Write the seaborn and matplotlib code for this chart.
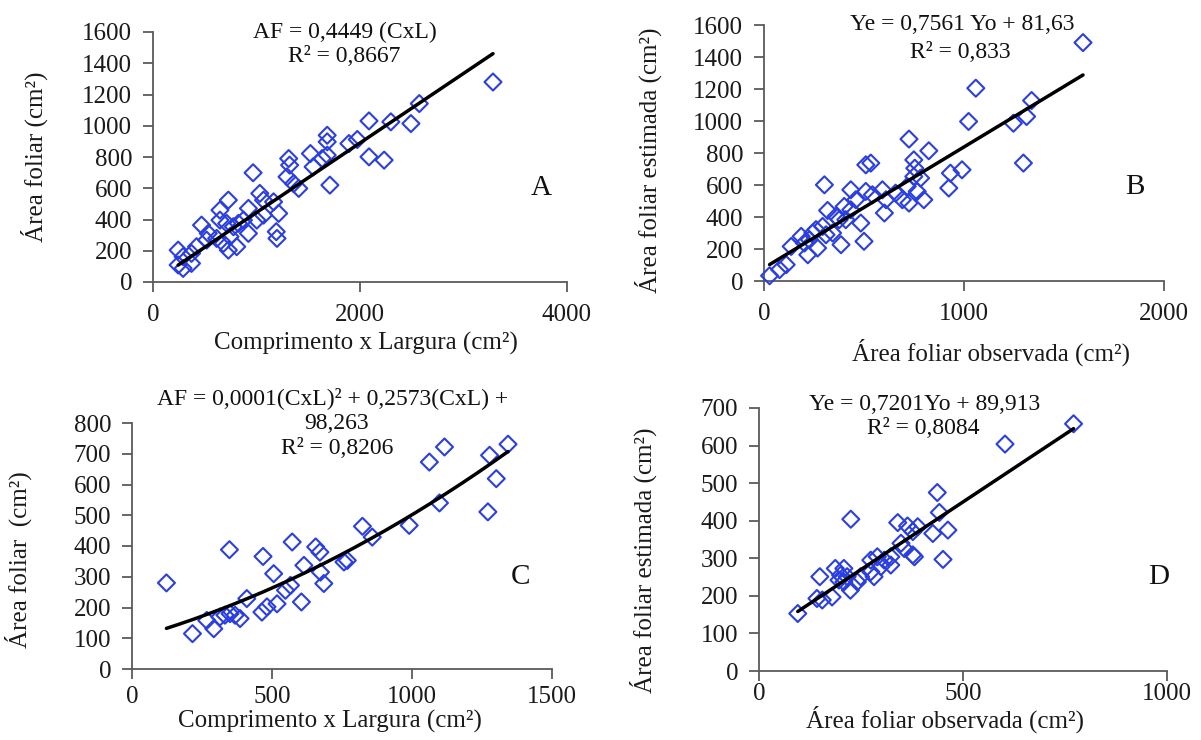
import numpy as np
import pandas as pd
import matplotlib
matplotlib.use("Agg")
import matplotlib.pyplot as plt
import seaborn as sns

# Panel A: leaf area vs length x width (calibration set)
a_cxl = [3285, 2573, 2492, 2298, 2087, 2087, 2233, 1974, 1893, 1683, 1683, 1683,
         1634, 1521, 1547, 1311, 1320, 1295, 1359, 1408, 1709, 967, 1032, 1068,
         1165, 1214, 1191, 1198, 922, 1003, 922, 825, 728, 647, 647, 712, 469,
         534, 680, 728, 809, 744, 615, 421, 372, 243, 291, 243, 291, 372, 518,
         777, 874, 1068]
a_af = [1280, 1142, 1014, 1025, 1031, 801, 780, 912, 886, 939, 897, 812,
        790, 822, 737, 790, 748, 673, 630, 599, 620, 699, 567, 524,
        513, 439, 322, 279, 471, 396, 311, 375, 524, 460, 396, 375, 364,
        311, 247, 204, 226, 290, 279, 226, 183, 204, 162, 109, 87, 119, 268,
        354, 396, 428]

# Panel B: estimated vs observed leaf area (calibration set)
b_obs = [1595, 1059, 1338, 1313, 1247, 1297, 1023, 990, 932, 924, 824, 725,
         749, 754, 749, 783, 799, 766, 725, 692, 716, 509, 534, 302, 434, 509,
         592, 610, 602, 484, 500, 385, 318, 401, 434, 376, 343, 260, 227, 268,
         219, 136, 111, 78, 28, 293, 360, 409, 244, 310, 459, 542, 658, 202, 186]
b_est = [1490, 1205, 1128, 1028, 986, 737, 997, 695, 674, 581, 814, 887,
         757, 705, 653, 643, 508, 560, 487, 508, 591, 726, 737, 601, 570, 560,
         570, 508, 425, 362, 248, 227, 441, 466, 445, 383, 300, 321, 258, 206,
         164, 216, 102, 71, 33, 341, 404, 383, 300, 289, 508, 539, 549, 237, 279]

# Panel C: leaf area vs length x width (second set)
c_cxl = [123, 216, 267, 292, 314, 332, 350, 368, 386, 348, 410, 468, 464, 482,
         518, 506, 548, 566, 572, 605, 614, 656, 671, 673, 685, 757, 769, 823,
         858, 990, 1062, 1116, 1098, 1271, 1277, 1301, 1343]
c_af = [280, 115, 158, 131, 169, 175, 180, 175, 164, 388, 229, 366, 185, 202,
        212, 310, 256, 272, 413, 218, 337, 397, 380, 315, 278, 348, 353, 464,
        429, 467, 673, 722, 540, 511, 695, 619, 731]

# Panel D: estimated vs observed leaf area (validation set)
d_obs = [771, 603, 437, 442, 463, 426, 451, 340, 364, 389, 377, 377, 381, 348,
         356, 225, 323, 323, 307, 290, 274, 282, 274, 208, 187, 216, 208, 224,
         241, 196, 149, 155, 179, 142, 95, 249, 200, 299]
d_est = [658, 604, 475, 422, 375, 366, 297, 395, 386, 384, 371, 309, 304, 340,
         326, 404, 304, 282, 295, 304, 295, 251, 264, 273, 273, 251, 237, 215,
         237, 242, 251, 189, 197, 193, 153, 251, 255, 278]

# Fitted model coefficients
a_slope = 0.4449
b_slope, b_icpt = 0.7561, 81.63
c_quad = [0.000146, 0.2573, 98.263]
d_slope, d_icpt = 0.7201, 89.913

sns.set_style("ticks")
plt.rcParams["font.family"] = ["Liberation Serif", "DejaVu Serif"]

W, H = 1201, 740
fig = plt.figure(figsize=(W / 100, H / 100), dpi=100)


def px_axes(left, top, right, bottom):
    return fig.add_axes([left / W, 1 - bottom / H, (right - left) / W, (bottom - top) / H])


def fig_text(x, y, s, size=17, **kw):
    fig.text(x / W, 1 - y / H, s, ha="center", va="center", fontsize=size,
             color="#111111", **kw)


MARK = "#2b3fe0"
SPINE = "#5a5a5a"
TXT = "#1a1a1a"


def style(ax, xlim, ylim, xticks, yticks, xlabel, ylabel, xl_pos, yl_pos, xpad=9):
    ax.set_xlim(*xlim)
    ax.set_ylim(*ylim)
    ax.set_xticks(xticks)
    ax.set_yticks(yticks)
    sns.despine(ax=ax)
    for side in ("left", "bottom"):
        ax.spines[side].set_color(SPINE)
        ax.spines[side].set_linewidth(1.3)
    ax.tick_params(direction="out", length=7, width=1.3, color=SPINE,
                   labelsize=18, labelcolor=TXT, pad=8)
    ax.tick_params(axis="x", pad=xpad)
    ax.set_xlabel(xlabel, fontsize=18, color=TXT, va="center")
    ax.set_ylabel(ylabel, fontsize=18, color=TXT, va="center")
    ax.xaxis.set_label_coords(*xl_pos)
    ax.yaxis.set_label_coords(*yl_pos)
    ax.set_facecolor("none")


def scatter(ax, x, y):
    df = pd.DataFrame({"x": x, "y": y})
    sns.scatterplot(data=df, x="x", y="y", ax=ax, marker="D", s=75,
                    facecolor="none", edgecolor=MARK, linewidth=1.5,
                    clip_on=False, zorder=3)


def fit_line(ax, x, fn):
    xs = np.linspace(min(x), max(x), 200)
    df = pd.DataFrame({"x": xs, "y": fn(xs)})
    sns.lineplot(data=df, x="x", y="y", ax=ax, color="black", linewidth=2.5, zorder=4)


# A
axA = px_axes(153, 32, 567, 282)
scatter(axA, a_cxl, a_af)
fit_line(axA, a_cxl, lambda v: a_slope * v)
style(axA, (0, 4000), (0, 1600), [0, 2000, 4000], range(0, 1601, 200),
      "Comprimento x Largura (cm²)", "Área foliar (cm²)",
      (0.515, -0.244), (-0.287, 0.5), xpad=9)
fig_text(345, 32, "AF = 0,4449 (CxL)")
fig_text(344, 57, "R² = 0,8667")
fig_text(541, 188, "A", size=21)

# B
axB = px_axes(764, 25, 1164, 281)
scatter(axB, b_obs, b_est)
fit_line(axB, b_obs, lambda v: b_slope * v + b_icpt)
style(axB, (0, 2000), (0, 1600), [0, 1000, 2000], range(0, 1601, 200),
      "Área foliar observada (cm²)", "Área foliar estimada (cm²)",
      (0.5675, -0.277), (-0.29, 0.473), xpad=9)
fig_text(962, 25, "Ye = 0,7561 Yo + 81,63")
fig_text(960, 52, "R² = 0,833")
fig_text(1135, 187, "B", size=21)

# C
axC = px_axes(132, 423, 552, 669)
scatter(axC, c_cxl, c_af)
fit_line(axC, c_cxl, lambda v: np.polyval(c_quad, v))
style(axC, (0, 1500), (0, 800), [0, 500, 1000, 1500], range(0, 801, 100),
      "Comprimento x Largura (cm²)", "Área foliar  (cm²)",
      (0.471, -0.215), (-0.271, 0.443), xpad=5)
fig_text(333, 398, "AF = 0,0001(CxL)² + 0,2573(CxL) +")
fig_text(337, 423, "98,263")
fig_text(337, 448, "R² = 0,8206")
fig_text(520, 577, "C", size=21)

# D
axD = px_axes(759, 408, 1167, 671)
scatter(axD, d_obs, d_est)
fit_line(axD, d_obs, lambda v: d_slope * v + d_icpt)
style(axD, (0, 1000), (0, 700), [0, 500, 1000], range(0, 701, 100),
      "Área foliar observada (cm²)", "Área foliar estimada (cm²)",
      (0.456, -0.185), (-0.284, 0.422), xpad=2)
fig_text(925, 404, "Ye = 0,7201Yo + 89,913")
fig_text(923, 429, "R² = 0,8084")
fig_text(1159, 577, "D", size=21)

for ax in (axA, axB, axC, axD):
    leg = ax.get_legend()
    if leg is not None:
        leg.remove()

fig.savefig("out.png", dpi=100, facecolor="white")
